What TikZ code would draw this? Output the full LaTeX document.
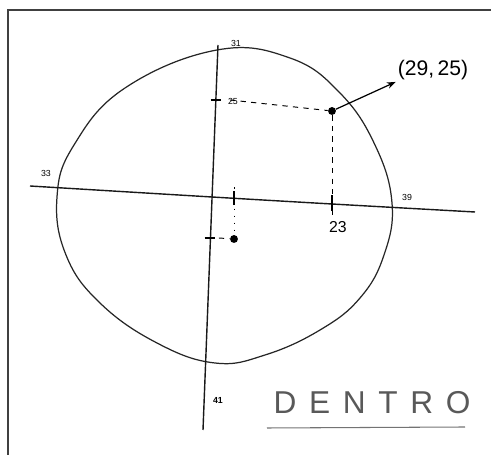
\documentclass[tikz,border=0pt]{standalone}
\usepackage{fontspec}
\setmainfont{Liberation Sans}
\newfontfamily\handfont[LetterSpace=40]{Liberation Sans}
\usetikzlibrary{arrows.meta}

\begin{document}
\begin{tikzpicture}[x=0.02cm,y=-0.02cm,
  pen/.style={line width=0.7pt,black!85},
  axis/.style={line width=0.8pt,black!90},
  guide/.style={line width=0.55pt,dash pattern=on 3pt off 3pt},
  dotted guide/.style={line width=0.55pt,dash pattern=on 1pt off 3pt},
  tick/.style={line width=0.7pt},
  num/.style={inner sep=1pt,font=\tiny},
  dot/.style={circle,fill=black,inner sep=0pt,minimum size=4.5pt},
  arr/.style={-{Stealth[length=5pt]},line width=0.7pt}
]
\useasboundingbox (0,0) rectangle (491,455);
% frame (top and left edge only)
\draw[line width=1.2pt,black!75] (491,10) -- (8,10) -- (8,455);

% hand-drawn boundary
\draw[pen] plot[smooth cycle,tension=0.7] coordinates {
  (217,50) (290,58) (340,93) (375,145) (392,203) (384,255) (360,298)
  (320,330) (265,355) (215,363) (157,343) (100,303) (66,255) (57,197)
  (74,145) (125,88)};

% axes
\coordinate (ytop) at (218,45);
\coordinate (ybot) at (203,430);
\draw[axis] (ytop) -- (ybot);
\draw[axis] plot[smooth,tension=0.5] coordinates {
  (30,186) (212,197) (332,204) (475,212)};

% points
\coordinate (ty25) at (216,100);
\coordinate (tx23) at (332,204);
\coordinate (tyq) at (210,238);
\coordinate (txq) at (234,198);
\node[dot] (p1) at (332,111) {};
\node[dot] (p2) at (234,239) {};

% ticks
\draw[tick] ([xshift=-3]ty25) -- ([xshift=3]ty25);
\draw[tick] ([xshift=-3]tyq) -- ([xshift=3]tyq);
\draw[tick] ([yshift=-4]tx23) -- ([yshift=5]tx23);
\draw[tick] ([yshift=-4]txq) -- ([yshift=4]txq);

% projections
\draw[guide] ([xshift=8]ty25) -- (p1);
\draw[guide] (p1) -- ([yshift=-7]tx23);
\draw[guide] ([xshift=5]tyq) -- (p2);
\draw[dotted guide] ([yshift=6]txq) -- (p2);

% labels
\node[num] (l31) at (236,43) {31};
\node[num] (l25) at (233,101) {25};
\node[num] (l33) at (46,173) {33};
\node[num] (l39) at (407,197) {39};
\node[num,font=\small] (l23) at (338,227) {23};
\node[num,font=\tiny\bfseries] (l41) at (218,400) {41};
\node[inner sep=1pt,font=\large] (lab) at (433,70) {(29,\,25)};
\draw[arr] (p1) -- (lab.south west);

% caption
\node[font=\handfont\fontsize{18}{18}\selectfont,text=black!65] (dentro) at (372,403) {DENTRO};
\coordinate (ul1) at (267,428);
\coordinate (ul2) at (465,427);
\draw[black!55,line width=0.6pt] (ul1) -- (ul2);
\end{tikzpicture}
\end{document}
